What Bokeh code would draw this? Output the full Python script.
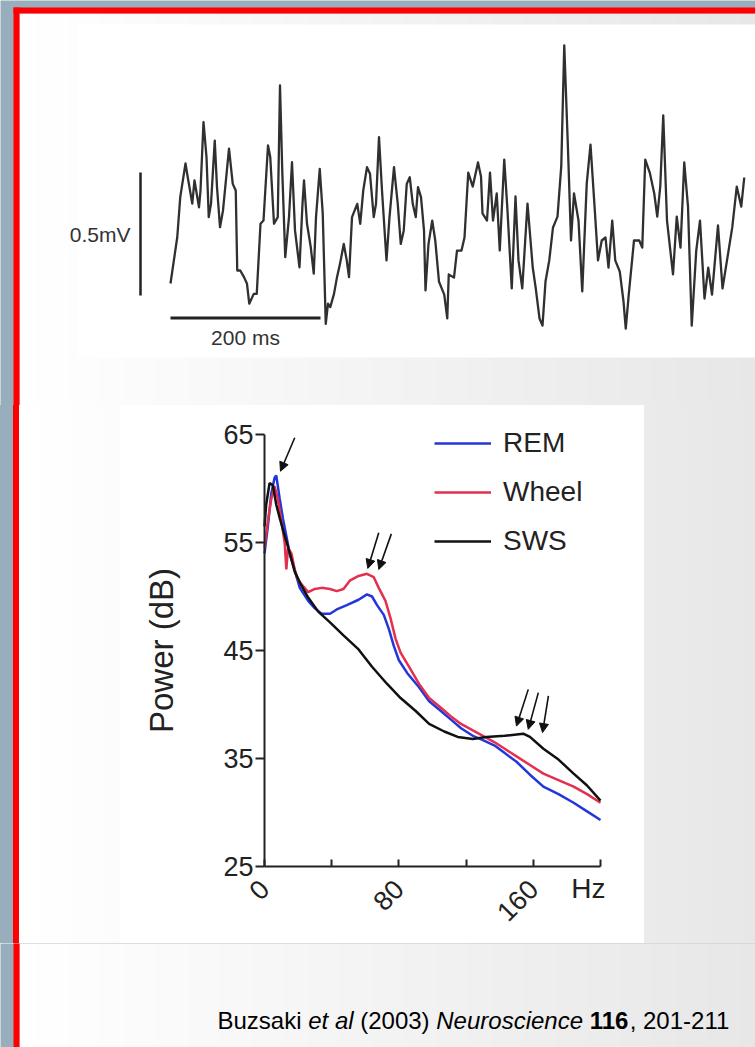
import math
from bokeh.plotting import figure
from bokeh.models import Range1d, Legend, Label, Arrow, NormalHead, FixedTicker, ColumnDataSource, Div
from bokeh.layouts import column, row
from bokeh.embed import file_html
from bokeh.resources import INLINE
from bokeh.core.properties import value

# ---------------- data ----------------
# EEG trace (time in ms, potential in mV)
eeg_t_ms = [0, 9, 13, 20, 23, 29, 32, 38, 40, 44, 48, 51, 54, 59, 62, 66, 70, 78, 83, 87,
            89, 93, 98, 102, 105, 111, 115, 120, 124, 130, 133, 138, 143, 146, 149, 153, 158, 162, 166, 172,
            176, 178, 182, 187, 191, 194, 199, 203, 207, 210, 213, 218, 222, 226, 231, 235, 238, 242, 249, 253,
            257, 262, 266, 271, 274, 278, 282, 288, 292, 298, 303, 307, 311, 315, 319, 323, 327, 330, 334, 338,
            340, 344, 349, 353, 358, 365, 369, 371, 378, 382, 388, 392, 397, 403, 410, 414, 416, 422, 426, 430,
            435, 439, 445, 449, 455, 460, 464, 469, 476, 483, 487, 492, 496, 500, 505, 510, 516, 521, 525, 530,
            534, 538, 544, 549, 555, 560, 566, 570, 575, 580, 584, 589, 593, 599, 604, 607, 611, 618, 625, 629,
            633, 639, 645, 649, 653, 657, 662, 670, 675, 680, 685, 690, 695, 701, 706, 712, 717, 722, 730, 736,
            742, 749, 755, 761, 765]
eeg_mv = [0.069, 0.257, 0.420, 0.557, 0.501, 0.394, 0.488, 0.379, 0.447, 0.725, 0.583, 0.339, 0.393, 0.650, 0.461, 0.298, 0.366, 0.617, 0.474, 0.447,
          0.122, 0.122, 0.095, 0.068, -0.013, 0.027, 0.027, 0.312, 0.325, 0.630, 0.583, 0.312, 0.339, 0.874, 0.528, 0.176, 0.339, 0.562, 0.285, 0.135,
          0.393, 0.488, 0.312, 0.217, 0.109, 0.339, 0.535, 0.352, -0.095, -0.013, -0.027, 0.027, 0.095, 0.149, 0.230, 0.163, 0.095, 0.339, 0.393, 0.312,
          0.447, 0.542, 0.515, 0.339, 0.393, 0.664, 0.447, 0.163, 0.339, 0.542, 0.393, 0.230, 0.285, 0.474, 0.501, 0.393, 0.339, 0.461, 0.420, 0.285,
          0.041, 0.230, 0.325, 0.244, 0.077, 0.024, -0.073, 0.106, 0.093, 0.203, 0.203, 0.256, 0.520, 0.463, 0.561, 0.504, 0.354, 0.325, 0.520, 0.325,
          0.435, 0.203, 0.573, 0.382, 0.049, 0.423, 0.163, 0.049, 0.394, 0.134, 0.049, -0.073, -0.102, 0.077, 0.163, 0.297, 0.341, 0.545, 1.037, 0.614,
          0.244, 0.435, 0.325, 0.037, 0.476, 0.634, 0.354, 0.163, 0.244, 0.256, 0.134, 0.325, 0.163, 0.118, -0.004, -0.114, 0.024, 0.244, 0.244, 0.215,
          0.573, 0.520, 0.435, 0.341, 0.463, 0.752, 0.325, 0.106, 0.341, 0.215, 0.561, 0.382, -0.102, 0.203, 0.325, 0.008, 0.134, 0.024, 0.305, 0.049,
          0.163, 0.297, 0.463, 0.382, 0.500]
SCALE_T_MS = 200
SCALE_V_MV = 0.5

# Power spectra (frequency in Hz, power in dB)
rem_hz = [0, 2, 4, 6, 7, 9, 11, 15, 21, 26, 30, 34, 39, 43, 49, 56, 61, 64, 67, 71,
          74, 77, 80, 85, 92, 98, 105, 111, 117, 124, 130, 137, 143, 150, 158, 166, 175, 184, 192, 200]
rem_db = [54.0, 56.5, 59.5, 61.0, 61.2, 59.1, 57.2, 54.0, 50.8, 49.6, 48.9, 48.4, 48.4, 48.8, 49.2, 49.7, 50.2, 50.0, 49.2, 48.3,
          47.0, 45.4, 44.1, 42.9, 41.6, 40.3, 39.4, 38.6, 37.8, 37.1, 36.7, 36.2, 35.5, 34.7, 33.5, 32.4, 31.7, 30.9, 30.1, 29.3]
wheel_hz = [0, 2, 4, 6, 8, 10, 12, 13, 14, 16, 18, 20, 26, 30, 34, 39, 43, 47, 51, 56, 61, 65,
            68, 72, 75, 78, 81, 86, 92, 98, 105, 111, 117, 124, 130, 137, 143, 150, 158, 166, 175, 184, 192, 200]
wheel_db = [54.5, 57.0, 59.0, 60.2, 59.0, 57.0, 55.0, 52.5, 54.5, 54.0, 52.5, 51.5, 50.4, 50.7, 50.8, 50.7, 50.5, 50.7, 51.5, 51.9, 52.1, 51.8,
            50.8, 49.6, 48.0, 46.1, 44.8, 43.5, 41.9, 40.6, 39.7, 38.9, 38.2, 37.6, 37.1, 36.5, 35.9, 35.2, 34.4, 33.6, 33.0, 32.4, 31.7, 30.9]
sws_hz = [0, 1, 3, 5, 7, 9, 11, 14, 18, 22, 26, 32, 39, 47, 56, 64, 73, 81, 90, 98,
          107, 115, 124, 132, 143, 154, 158, 166, 175, 184, 192, 200]
sws_db = [56.5, 58.5, 60.5, 60.3, 58.5, 57.3, 56.2, 54.6, 52.3, 51.0, 49.9, 48.6, 47.6, 46.4, 45.1, 43.5, 41.9, 40.6, 39.4, 38.2,
          37.5, 37.0, 36.8, 37.0, 37.1, 37.3, 37.0, 35.9, 34.9, 33.6, 32.5, 31.1]
series_names = ["REM", "Wheel", "SWS"]
HZ_MIN, HZ_MAX = 0, 200
DB_MIN, DB_MAX = 25, 65
x_ticks_hz = [0, 40, 80, 120, 160, 200]
x_tick_labels = {0: "0", 40: "", 80: "80", 120: "", 160: "160", 200: ""}
y_ticks_db = [25, 35, 45, 55, 65]

# arrow annotations (Hz, dB): start -> head
arrows = [(18.0, 64.7, 9.5, 61.6),
          (68.0, 55.9, 61.5, 52.6), (75.5, 55.8, 68.0, 52.5),
          (157.0, 41.4, 150.0, 38.0), (163.0, 41.1, 157.0, 37.7), (169.0, 40.8, 165.5, 37.4)]

# citation pieces: (text, style, followed by a space)
citation = [("Buzsaki", "normal", True), ("et al", "italic", True), ("(2003)", "normal", True),
            ("Neuroscience", "italic", True), ("116", "bold", False), (", 201-211", "normal", False)]

# ---------------- styling ----------------
PAGE_W, PAGE_H = 755, 1047
BG = "#98aebd"
RED = "#ff0000"
FONT = "Liberation Sans"
INK = "#222222"
C_REM, C_WHEEL, C_SWS = "#2336dc", "#e2304e", "#111111"


def gray_at(x):
    g = int(round(255 - 24 * (x - 19) / 736.0))
    return "#%02x%02x%02x" % (g, g, g)


def tile(x0, x1, y0, y1):
    p = figure(width=x1 - x0, height=y1 - y0, x_range=Range1d(x0, x1), y_range=Range1d(y1, y0),
               x_axis_type=None, y_axis_type=None, toolbar_location=None, output_backend="svg",
               min_border=0, outline_line_color=None)
    p.background_fill_color = BG
    p.border_fill_color = BG
    edges = list(range(19, PAGE_W, 8)) + [PAGE_W]
    lefts = edges[:-1]
    rights = [min(r + 0.5, PAGE_W) for r in edges[1:]]
    cols = [gray_at((a + b) / 2) for a, b in zip(edges[:-1], edges[1:])]
    p.quad(left=lefts, right=rights, top=max(y0, 13), bottom=y1, color=cols, line_color=None)
    p.quad(left=[13], right=[19], top=[7], bottom=[PAGE_H], color=RED, line_color=None)
    p.quad(left=[13], right=[PAGE_W], top=[7], bottom=[13], color=RED, line_color=None)
    return p


def strip(x0, x1, h, with_border):
    if with_border:
        bgcss = ("linear-gradient(to right, %s 0px, %s 13px, %s 13px, %s 19px, %s 19px, %s %dpx)"
                 % (BG, BG, RED, RED, gray_at(19), gray_at(x1), x1 - x0))
    else:
        bgcss = "linear-gradient(to right, %s 0px, %s %dpx)" % (gray_at(x0), gray_at(x1), x1 - x0)
    return Div(text="", width=x1 - x0, height=h, margin=0,
               styles={"background": bgcss, "padding": "0px", "margin": "0px"})


# ---------------- top tile: EEG trace ----------------
T = tile(0, PAGE_W, 0, 405)
T.quad(left=[77], right=[PAGE_W], top=[24], bottom=[357], color="white", line_color=None)
PX_PER_MS = 150 / 200.0
T0_PX = 170
PX_PER_MV = 246.0
V0_PX = 300
T.extra_x_ranges = {"t": Range1d((0 - T0_PX) / PX_PER_MS, (PAGE_W - T0_PX) / PX_PER_MS)}
T.extra_y_ranges = {"v": Range1d((V0_PX - 405) / PX_PER_MV, (V0_PX - 0) / PX_PER_MV)}
T.line(eeg_t_ms, eeg_mv, x_range_name="t", y_range_name="v", line_color="#303030", line_width=2.3,
       line_join="round")
vbar_t = -30 / PX_PER_MS
vbar_v0 = 0.02
T.segment(x0=[vbar_t], y0=[vbar_v0], x1=[vbar_t], y1=[vbar_v0 + SCALE_V_MV], x_range_name="t",
          y_range_name="v", line_color="#222222", line_width=2.5)
hbar_v = -17.5 / PX_PER_MV
T.segment(x0=[0], y0=[hbar_v], x1=[SCALE_T_MS], y1=[hbar_v], x_range_name="t", y_range_name="v",
          line_color="#222222", line_width=3)
T.text(x=[vbar_t - 10 / PX_PER_MS], y=[vbar_v0 + SCALE_V_MV / 2], text=["0.5mV"], x_range_name="t",
       y_range_name="v", text_align="right", text_baseline="middle", text_font=value(FONT),
       text_font_size="21px", text_color="#333333")
T.text(x=[SCALE_T_MS / 2], y=[hbar_v - 8 / PX_PER_MV], text=["%d ms" % SCALE_T_MS], x_range_name="t",
       y_range_name="v", text_align="center", text_baseline="top", text_font=value(FONT),
       text_font_size="21px", text_color="#333333")

# ---------------- middle row: spectrum ----------------
S_X0, S_X1, S_Y0, S_Y1 = 120, 644, 405, 943        # page box of the spectrum panel
AX_X0, AX_X1, AX_Y_TOP, AX_Y_BOT = 264, 600, 434, 866  # page pixels of the axes
hz_per_px = (HZ_MAX - HZ_MIN) / float(AX_X1 - AX_X0)
db_per_px = (DB_MAX - DB_MIN) / float(AX_Y_BOT - AX_Y_TOP)
S = figure(width=S_X1 - S_X0, height=S_Y1 - S_Y0,
           x_range=Range1d(HZ_MIN - (AX_X0 - S_X0) * hz_per_px, HZ_MAX + (S_X1 - AX_X1) * hz_per_px),
           y_range=Range1d(DB_MIN - (S_Y1 - AX_Y_BOT) * db_per_px, DB_MAX + (AX_Y_TOP - S_Y0) * db_per_px),
           toolbar_location=None, output_backend="svg", min_border=0, outline_line_color=None)
S.background_fill_color = "white"
S.border_fill_color = "white"
S.grid.visible = False
for ax in (S.xaxis[0], S.yaxis[0]):
    ax.axis_line_color = INK
    ax.axis_line_width = 2
    ax.major_tick_line_color = INK
    ax.major_tick_line_width = 2
    ax.minor_tick_line_color = None
    ax.major_label_text_font = FONT
    ax.major_label_text_font_size = "27px"
    ax.major_label_text_color = INK
yax = S.yaxis[0]
yax.fixed_location = HZ_MIN
yax.bounds = (DB_MIN, DB_MAX)
yax.ticker = FixedTicker(ticks=y_ticks_db)
yax.major_tick_out = 9
yax.major_tick_in = 0
yax.major_label_standoff = 2
yax.axis_label = "Power (dB)"
yax.axis_label_text_font = FONT
yax.axis_label_text_font_style = "normal"
yax.axis_label_text_font_size = "33px"
yax.axis_label_text_color = INK
yax.axis_label_standoff = 40
xax = S.xaxis[0]
xax.fixed_location = DB_MIN
xax.bounds = (HZ_MIN, HZ_MAX)
xax.ticker = FixedTicker(ticks=x_ticks_hz)
xax.major_label_overrides = x_tick_labels
xax.major_label_orientation = math.pi / 4
xax.major_tick_in = 7
xax.major_tick_out = 0
xax.major_label_standoff = 18

r_rem = S.line(rem_hz, rem_db, line_color=C_REM, line_width=2.5)
r_wheel = S.line(wheel_hz, wheel_db, line_color=C_WHEEL, line_width=2.5)
r_sws = S.line(sws_hz, sws_db, line_color=C_SWS, line_width=2.5)

legend = Legend(items=[(series_names[0], [r_rem]), (series_names[1], [r_wheel]), (series_names[2], [r_sws])],
                location=(314, 386), orientation="vertical", glyph_width=57, glyph_height=30,
                label_standoff=12, spacing=17, padding=0, margin=0, border_line_color=None,
                background_fill_alpha=0, label_text_font=FONT, label_text_font_size="28px",
                label_text_color=INK)
S.add_layout(legend)

for xs_, ys_, xe_, ye_ in arrows:
    S.add_layout(Arrow(x_start=xs_, y_start=ys_, x_end=xe_, y_end=ye_, line_color="#111111", line_width=1.6,
                       end=NormalHead(size=9, fill_color="#111111", line_color="#111111")))

S.add_layout(Label(x=HZ_MAX, y=DB_MIN, text="Hz", x_offset=5, y_offset=-22, text_align="right",
                   text_baseline="middle", text_font=FONT, text_font_size="28px", text_color=INK))

ML = strip(0, S_X0, S_Y1 - S_Y0, True)
MR = strip(S_X1, PAGE_W, S_Y1 - S_Y0, False)

# ---------------- bottom tile: citation ----------------
B = tile(0, PAGE_W, S_Y1, PAGE_H)
W = {" ": 278, "(": 333, ")": 333, ",": 278, "-": 333, "B": 667, "u": 556, "z": 500, "s": 500, "a": 556,
     "k": 500, "i": 222, "e": 556, "t": 278, "l": 222, "N": 722, "r": 333, "o": 556, "c": 500, "n": 556}
for d in "0123456789":
    W[d] = 556
FS = 24
xs, cx = [], 217.0
for txt, sty, sp in citation:
    xs.append(cx)
    cx += sum(W[ch] for ch in txt) * FS / 1000.0 + (W[" "] * FS / 1000.0 if sp else 0)
src = ColumnDataSource(dict(x=xs, y=[1020] * len(citation), text=[c[0] for c in citation],
                            style=[c[1] for c in citation]))
B.text(x="x", y="y", text="text", source=src, text_font_style="style", text_align="left",
       text_baseline="middle", text_font=value(FONT), text_font_size="%dpx" % FS, text_color="#000000")

layout = column(T, row(ML, S, MR), B)
open("out.html", "w").write(file_html(layout, INLINE))
